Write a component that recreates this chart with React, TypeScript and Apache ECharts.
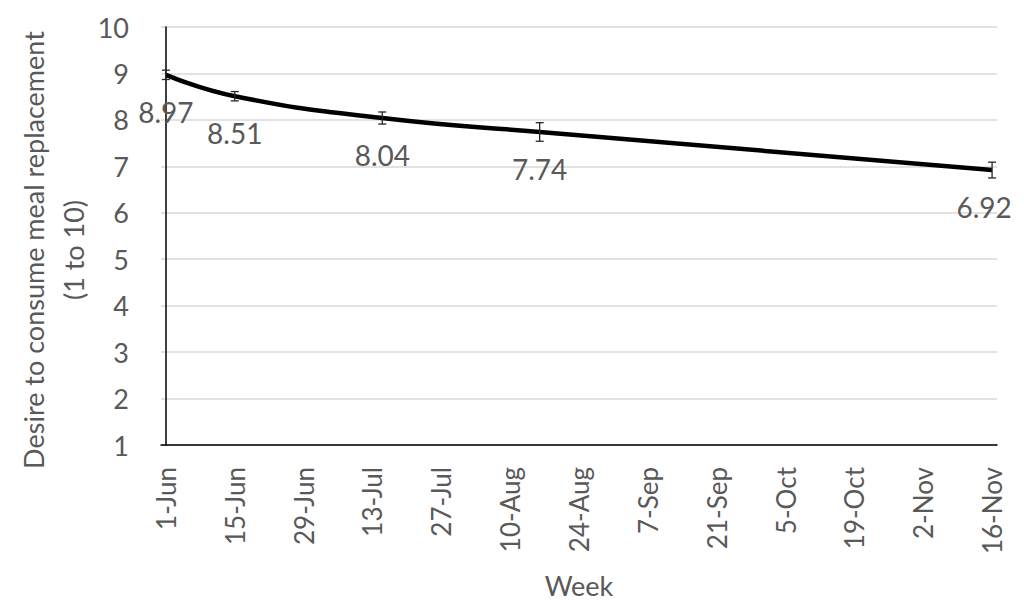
import React, { useEffect, useRef } from "react";
import * as echarts from "echarts";

// ---- data ----
const pointDates = ["1-Jun", "15-Jun", "15-Jul", "16-Aug", "16-Nov"];
const values = [8.97, 8.51, 8.04, 7.74, 6.92];
const errors = [0.1, 0.1, 0.13, 0.2, 0.17];
const tickLabels = [
  "1-Jun", "15-Jun", "29-Jun", "13-Jul", "27-Jul", "10-Aug", "24-Aug",
  "7-Sep", "21-Sep", "5-Oct", "19-Oct", "2-Nov", "16-Nov",
];
const yTitleLines = ["Desire to consume meal replacement", "(1 to 10)"];
const xTitle = "Week";

const MONTHS: Record<string, number> = {
  Jan: 0, Feb: 1, Mar: 2, Apr: 3, May: 4, Jun: 5,
  Jul: 6, Aug: 7, Sep: 8, Oct: 9, Nov: 10, Dec: 11,
};
function dayOffset(label: string): number {
  const [d, m] = label.split("-");
  return (Date.UTC(2020, MONTHS[m], Number(d)) - Date.UTC(2020, 5, 1)) / 86400000;
}

const FONT = "Lato, 'Liberation Sans', sans-serif";
const TEXT = "#595959";

export default function App() {
  const ref = useRef<HTMLDivElement>(null);
  useEffect(() => {
    if (!ref.current) return;
    const chart = echarts.init(ref.current, undefined, { renderer: "svg" });
    const tickDays = tickLabels.map(dayOffset);
    const labelByDay: Record<number, string> = {};
    tickLabels.forEach((l, i) => (labelByDay[tickDays[i]] = l));
    const pointDays = pointDates.map(dayOffset);
    const last = values.length - 1;

    const lineData = values.map((v, i) => ({
      value: [pointDays[i], v],
      label: i === last ? { offset: [-8, 0] } : undefined,
    }));
    const errData = values.map((v, i) => [pointDays[i], v - errors[i], v + errors[i]]);

    chart.setOption({
      animation: false,
      textStyle: { fontFamily: FONT },
      grid: { left: 161, right: 27, top: 27, bottom: 163 },
      xAxis: {
        type: "value",
        min: -1,
        max: 169,
        name: xTitle,
        nameLocation: "middle",
        nameGap: 127,
        nameTextStyle: { fontSize: 27, color: TEXT, fontFamily: FONT },
        axisLine: { show: true, lineStyle: { color: "#000", width: 1.5 } },
        axisTick: { show: false },
        splitLine: { show: false },
        axisLabel: {
          customValues: tickDays,
          rotate: 90,
          margin: 22,
          fontSize: 26,
          color: TEXT,
          fontFamily: FONT,
          formatter: (v: number) => labelByDay[v] ?? "",
        },
      },
      yAxis: {
        type: "value",
        min: 1,
        max: 10,
        interval: 1,
        axisLine: { show: true, lineStyle: { color: "#000", width: 1.5 } },
        axisTick: { show: false },
        splitLine: { show: true, lineStyle: { color: "#d9d9d9", width: 1.5 } },
        axisLabel: { fontSize: 27, color: TEXT, margin: 32, fontFamily: FONT },
      },
      graphic: yTitleLines.map((t, i) => ({
        type: "text",
        x: i === 0 ? 33 : 73,
        y: 250,
        rotation: Math.PI / 2,
        style: {
          text: t,
          fontSize: 27,
          fill: TEXT,
          fontFamily: FONT,
          align: "center",
          verticalAlign: "middle",
        },
      })),
      series: [
        {
          type: "line",
          data: lineData,
          smooth: 0.5,
          symbol: "circle",
          symbolSize: 0.1,
          lineStyle: { color: "#000", width: 4.5 },
          itemStyle: { color: "#000" },
          label: {
            show: true,
            position: "bottom",
            distance: 23,
            fontSize: 28,
            color: TEXT,
            fontFamily: FONT,
            formatter: (p: any) => p.value[1].toFixed(2),
          },
          z: 2,
        },
        {
          type: "custom",
          data: errData,
          z: 3,
          renderItem: (params: any, api: any) => {
            const x = api.value(0);
            const lo = api.coord([x, api.value(1)]);
            const hi = api.coord([x, api.value(2)]);
            const w = 4;
            const style = { stroke: "#262626", lineWidth: 1.3 };
            return {
              type: "group",
              children: [
                { type: "line", shape: { x1: lo[0], y1: lo[1], x2: hi[0], y2: hi[1] }, style },
                { type: "line", shape: { x1: lo[0] - w, y1: lo[1], x2: lo[0] + w, y2: lo[1] }, style },
                { type: "line", shape: { x1: hi[0] - w, y1: hi[1], x2: hi[0] + w, y2: hi[1] }, style },
              ],
            };
          },
        },
      ],
    });
    return () => chart.dispose();
  }, []);
  return (
    <div
      ref={ref}
      style={{ position: "fixed", left: 0, top: 0, width: 1024, height: 608, background: "#fff" }}
    />
  );
}
